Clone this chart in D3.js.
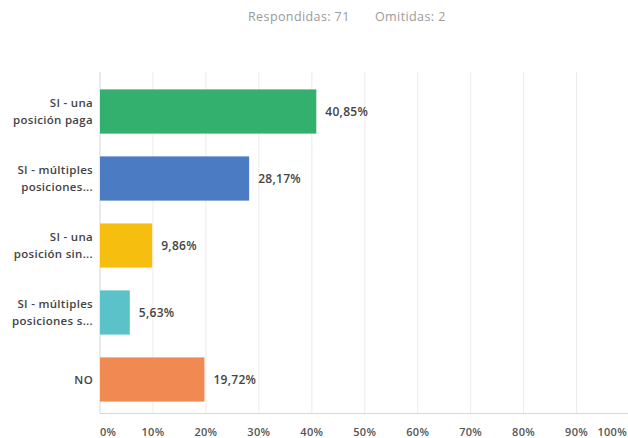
<!DOCTYPE html>
<html><head><meta charset="utf-8">
<script src="https://cdn.jsdelivr.net/npm/d3@7"></script>
<style>body{margin:0;background:#fff}svg{display:block}</style>
</head><body>
<svg id="c" width="628" height="438"></svg>
<script>
const categories = [["SI - una","posición paga"],["SI - múltiples","posiciones..."],["SI - una","posición sin..."],["SI - múltiples","posiciones s..."],["NO"]];
const values = [40.85, 28.17, 9.86, 5.63, 19.72];
const valueLabels = ["40,85%","28,17%","9,86%","5,63%","19,72%"];
const colors = ["#34b06e","#4b7bc2","#f6bf10","#5cc2c9","#f08a52"];
const ticks = [0,10,20,30,40,50,60,70,80,90,100];
const respondidas = 71, omitidas = 2;

const svg = d3.select("#c");
const font = "'Open Sans', sans-serif";
const x = d3.scaleLinear().domain([0,100]).range([100,629.5]);
const y = d3.scaleBand().domain(d3.range(values.length)).range([78,413]).paddingInner(0.34).paddingOuter(0.17);

svg.append("text").attr("x",248).attr("y",21).attr("text-anchor","start")
  .attr("font-family",font).attr("font-size",12.5).attr("letter-spacing",0.4).attr("fill","#9a9a9a").text("Respondidas: "+respondidas);
svg.append("text").attr("x",375).attr("y",21).attr("text-anchor","start")
  .attr("font-family",font).attr("font-size",12.5).attr("letter-spacing",0.4).attr("fill","#9a9a9a").text("Omitidas: "+omitidas);

// grid
svg.append("g").selectAll("line").data(ticks.slice(1)).join("line")
  .attr("x1",d=>x(d)).attr("x2",d=>x(d)).attr("y1",72).attr("y2",413)
  .attr("stroke","#ececec").attr("stroke-width",1);

// axis lines
svg.append("line").attr("x1",x(0)).attr("x2",x(0)).attr("y1",72).attr("y2",413).attr("stroke","#d6d6d6");
svg.append("line").attr("x1",x(0)).attr("x2",628).attr("y1",413.5).attr("y2",413.5).attr("stroke","#d6d6d6");

// tick labels
svg.append("g").selectAll("text").data(ticks).join("text")
  .attr("x",(d,i)=> i===0 ? x(d) : (i===ticks.length-1 ? 627 : x(d)))
  .attr("text-anchor",(d,i)=> i===0 ? "start" : (i===ticks.length-1 ? "end" : "middle"))
  .attr("y",436).attr("font-family",font).attr("font-size",11).attr("letter-spacing",0.3).attr("font-weight",600)
  .attr("fill","#555").text(d=>d+"%");

// bars
svg.append("g").selectAll("rect").data(values).join("rect")
  .attr("x",x(0)).attr("y",(d,i)=>y(i)).attr("width",d=>x(d)-x(0)).attr("height",y.bandwidth())
  .attr("fill",(d,i)=>colors[i]);

// value labels
svg.append("g").selectAll("text").data(values).join("text")
  .attr("x",d=>x(d)+9).attr("y",(d,i)=>y(i)+y.bandwidth()/2+4.5)
  .attr("font-family",font).attr("font-size",12).attr("letter-spacing",0.3).attr("font-weight",600).attr("fill","#444")
  .text((d,i)=>valueLabels[i]);

// category labels
const cg = svg.append("g").selectAll("text").data(categories).join("text")
  .attr("text-anchor","end").attr("font-family",font).attr("font-size",11.5).attr("letter-spacing",0.3).attr("font-weight",600).attr("fill","#444");
cg.each(function(lines,i){
  const cy = y(i)+y.bandwidth()/2;
  const n = lines.length, lh = 16.5;
  d3.select(this).selectAll("tspan").data(lines).join("tspan")
    .attr("x",93).attr("y",(l,j)=>cy + (j-(n-1)/2)*lh + 4).text(l=>l);
});
</script>
</body></html>
